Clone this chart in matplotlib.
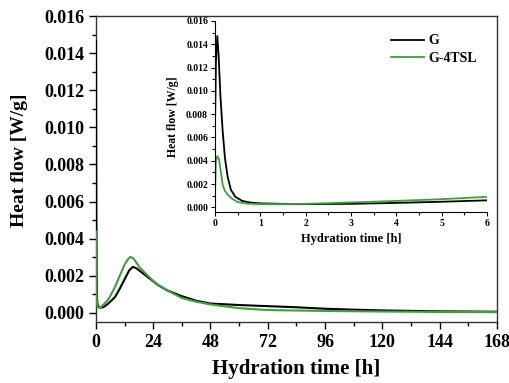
import numpy as np
import matplotlib.pyplot as plt
from matplotlib.ticker import MultipleLocator

plt.rcParams['font.family'] = ['Liberation Serif', 'DejaVu Serif']
plt.rcParams['font.weight'] = 'bold'

# G (black) - heat flow [W/g] vs hydration time [h]
t_g = [0, 0.02, 0.05, 0.08, 0.12, 0.17, 0.22, 0.28, 0.35, 0.45, 0.6, 0.8, 1.0,
       1.5, 2, 3, 4, 5, 6, 8, 10, 12, 14, 15.5, 17, 19, 22, 26, 30, 36, 42, 48,
       60, 72, 84, 96, 108, 120, 144, 168]
hf_g = [0.0070, 0.0125, 0.0147, 0.0130, 0.0095, 0.0065, 0.0042, 0.0026, 0.0015,
        0.0009, 0.00055, 0.0004, 0.00034, 0.0003, 0.00028, 0.0003, 0.00038,
        0.00048, 0.0006, 0.00085, 0.0013, 0.0018, 0.0023, 0.00248, 0.0024,
        0.0022, 0.0019, 0.0015, 0.0012, 0.0009, 0.00065, 0.0005, 0.00042,
        0.00036, 0.0003, 0.00022, 0.00017, 0.00013, 0.00008, 0.00006]

# G-4TSL (green)
t_t = [0, 0.02, 0.05, 0.09, 0.13, 0.17, 0.22, 0.28, 0.37, 0.5, 0.7, 1.0, 1.5,
       2, 3, 4, 5, 6, 8, 10, 12, 13.5, 14.5, 16, 18, 21, 25, 30, 36, 42, 48, 60,
       72, 96, 120, 144, 168]
hf_t = [0.0012, 0.0040, 0.0044, 0.0041, 0.0030, 0.0019, 0.0014, 0.0011,
        0.00075, 0.00045, 0.00032, 0.00028, 0.00028, 0.0003, 0.00042, 0.00055,
        0.0007, 0.0009, 0.0014, 0.0020, 0.0026, 0.0029, 0.00302, 0.0029,
        0.0025, 0.0021, 0.0016, 0.0012, 0.0008, 0.0006, 0.00045, 0.00025,
        0.00015, 0.0001, 0.00007, 0.00005, 0.00004]

green = '#3f9f3a'

fig = plt.figure(figsize=(5.1, 3.83), dpi=100)
ax = fig.add_axes([0.188, 0.159, 0.7865, 0.799])
ax.plot(t_g, hf_g, color='black', lw=1.5, zorder=3)
ax.plot(t_t, hf_t, color=green, lw=1.5, zorder=3)
ax.set_xlim(0, 168)
ax.set_ylim(-0.0005, 0.016)
ax.xaxis.set_major_locator(MultipleLocator(24))
ax.xaxis.set_minor_locator(MultipleLocator(12))
ax.yaxis.set_major_locator(MultipleLocator(0.002))
ax.yaxis.set_minor_locator(MultipleLocator(0.001))
ax.yaxis.set_major_formatter(plt.FuncFormatter(lambda v, p: f'{v:.3f}'))
ax.tick_params(which='major', direction='out', length=5, width=1, labelsize=13)
ax.tick_params(which='minor', direction='out', length=3, width=1)
for lab in ax.get_xticklabels() + ax.get_yticklabels():
    lab.set_fontweight('bold')
ax.set_xlabel('Hydration time [h]', fontsize=15, fontweight='bold', labelpad=6)
ax.set_ylabel('Heat flow [W/g]', fontsize=14, fontweight='bold')
ax.yaxis.set_label_coords(-0.17, 0.53)
for s in ax.spines.values():
    s.set_linewidth(1.0)
    s.set_color('#333333')

# inset: first 6 hours
ins = fig.add_axes([0.4216, 0.4465, 0.5333, 0.4987])
ins.plot(t_g, hf_g, color='black', lw=1.3, label='G')
ins.plot(t_t, hf_t, color=green, lw=1.3, label='G-4TSL')
ins.set_xlim(0, 6)
ins.set_ylim(-0.0004, 0.016)
ins.spines['top'].set_visible(False)
ins.spines['right'].set_visible(False)
ins.xaxis.set_major_locator(MultipleLocator(1))
ins.xaxis.set_minor_locator(MultipleLocator(0.5))
ins.yaxis.set_major_locator(MultipleLocator(0.002))
ins.yaxis.set_minor_locator(MultipleLocator(0.001))
ins.yaxis.set_major_formatter(plt.FuncFormatter(lambda v, p: f'{v:.3f}'))
ins.tick_params(which='major', direction='out', length=3, width=0.8, labelsize=7, pad=2)
ins.tick_params(which='minor', direction='out', length=2, width=0.8)
for lab in ins.get_xticklabels() + ins.get_yticklabels():
    lab.set_fontweight('bold')
ins.set_xlabel('Hydration time [h]', fontsize=9, fontweight='bold', labelpad=4)
ins.set_ylabel('Heat flow [W/g]', fontsize=8.5, fontweight='bold', labelpad=5)
ins.patch.set_alpha(0)
leg = ins.legend(loc='upper right', bbox_to_anchor=(1.01, 0.995), frameon=False,
                 handlelength=2.4, handletextpad=0.3, labelspacing=0.3,
                 prop={'weight': 'bold', 'size': 10})

fig.savefig('out.png', dpi=100)
